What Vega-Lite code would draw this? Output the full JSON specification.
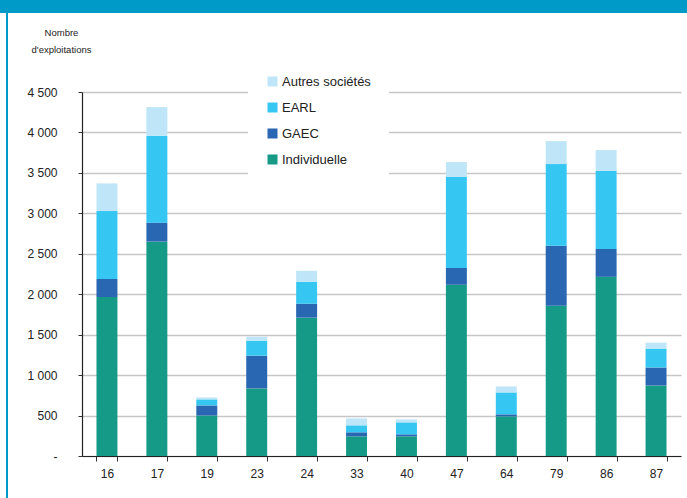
{
  "$schema": "https://vega.github.io/schema/vega-lite/v6.json",
  "autosize": {"type": "none"},
  "width": 599,
  "height": 364,
  "padding": {"left": 82, "top": 92, "right": 6, "bottom": 42},
  "background": "white",
  "config": {
    "font": "Liberation Sans",
    "view": {"stroke": null}
  },
  "data": {
    "values": [
      {"dep": "16", "type": "Individuelle", "n": 1965},
      {"dep": "16", "type": "GAEC", "n": 223},
      {"dep": "16", "type": "EARL", "n": 840},
      {"dep": "16", "type": "Autres sociétés", "n": 342},
      {"dep": "17", "type": "Individuelle", "n": 2650},
      {"dep": "17", "type": "GAEC", "n": 235},
      {"dep": "17", "type": "EARL", "n": 1072},
      {"dep": "17", "type": "Autres sociétés", "n": 356},
      {"dep": "19", "type": "Individuelle", "n": 500},
      {"dep": "19", "type": "GAEC", "n": 125},
      {"dep": "19", "type": "EARL", "n": 75},
      {"dep": "19", "type": "Autres sociétés", "n": 24},
      {"dep": "23", "type": "Individuelle", "n": 835},
      {"dep": "23", "type": "GAEC", "n": 405},
      {"dep": "23", "type": "EARL", "n": 185},
      {"dep": "23", "type": "Autres sociétés", "n": 50},
      {"dep": "24", "type": "Individuelle", "n": 1710},
      {"dep": "24", "type": "GAEC", "n": 172},
      {"dep": "24", "type": "EARL", "n": 272},
      {"dep": "24", "type": "Autres sociétés", "n": 136},
      {"dep": "33", "type": "Individuelle", "n": 243},
      {"dep": "33", "type": "GAEC", "n": 50},
      {"dep": "33", "type": "EARL", "n": 86},
      {"dep": "33", "type": "Autres sociétés", "n": 86},
      {"dep": "40", "type": "Individuelle", "n": 243},
      {"dep": "40", "type": "GAEC", "n": 25},
      {"dep": "40", "type": "EARL", "n": 148},
      {"dep": "40", "type": "Autres sociétés", "n": 37},
      {"dep": "47", "type": "Individuelle", "n": 2117},
      {"dep": "47", "type": "GAEC", "n": 208},
      {"dep": "47", "type": "EARL", "n": 1124},
      {"dep": "47", "type": "Autres sociétés", "n": 185},
      {"dep": "64", "type": "Individuelle", "n": 490},
      {"dep": "64", "type": "GAEC", "n": 25},
      {"dep": "64", "type": "EARL", "n": 271},
      {"dep": "64", "type": "Autres sociétés", "n": 74},
      {"dep": "79", "type": "Individuelle", "n": 1858},
      {"dep": "79", "type": "GAEC", "n": 740},
      {"dep": "79", "type": "EARL", "n": 1011},
      {"dep": "79", "type": "Autres sociétés", "n": 284},
      {"dep": "86", "type": "Individuelle", "n": 2215},
      {"dep": "86", "type": "GAEC", "n": 345},
      {"dep": "86", "type": "EARL", "n": 963},
      {"dep": "86", "type": "Autres sociétés", "n": 259},
      {"dep": "87", "type": "Individuelle", "n": 872},
      {"dep": "87", "type": "GAEC", "n": 222},
      {"dep": "87", "type": "EARL", "n": 234},
      {"dep": "87", "type": "Autres sociétés", "n": 74}
    ]
  },
  "encoding": {
    "x": {
      "field": "dep",
      "type": "nominal",
      "sort": null,
      "scale": {"paddingInner": 0.58, "paddingOuter": 0.29},
      "axis": {
        "title": null,
        "labelAngle": 0,
        "labelFontSize": 12,
        "labelColor": "#222222",
        "labelPadding": 7,
        "tickBand": "extent",
        "tickSize": 5,
        "tickColor": "#333333",
        "domainColor": "#222222",
        "domainWidth": 1.2,
        "grid": false
      }
    }
  },
  "layer": [
    {
      "mark": {"type": "bar", "strokeWidth": 0},
      "encoding": {
        "y": {
          "field": "n",
          "type": "quantitative",
          "stack": "zero",
          "scale": {"domain": [0, 4500], "nice": false},
          "axis": {
            "values": [0, 500, 1000, 1500, 2000, 2500, 3000, 3500, 4000, 4500],
            "labelExpr": "datum.value === 0 ? '-\u00a0\u00a0\u00a0\u00a0\u00a0' : replace(format(datum.value, ','), ',', ' ')",
            "labelFontSize": 12,
            "labelColor": "#222222",
            "labelPadding": 21,
            "tickSize": 4,
            "tickColor": "#333333",
            "domainColor": "#222222",
            "domainWidth": 1.2,
            "grid": true,
            "gridColor": "#c6c6c6",
            "gridWidth": 1.3,
            "title": ["Nombre", "d'exploitations"],
            "titleAngle": 0,
            "titleAlign": "center",
            "titleBaseline": "top",
            "titleX": -21,
            "titleY": -65,
            "titleFont": "Liberation Sans",
            "titleFontSize": 9.5,
            "titleFontWeight": "normal",
            "titleColor": "#222222",
            "titleLineHeight": 17
          }
        },
        "color": {
          "field": "type",
          "type": "nominal",
          "scale": {
            "domain": ["Autres sociétés", "EARL", "GAEC", "Individuelle"],
            "range": ["#BEE6F8", "#36C6F2", "#2A67B2", "#169A88"]
          },
          "legend": {
            "title": null,
            "orient": "none",
            "legendX": 166,
            "legendY": -35,
            "fillColor": "white",
            "padding": 18,
            "symbolType": "square",
            "symbolSize": 100,
            "symbolStrokeWidth": 0,
            "labelFontSize": 13,
            "labelColor": "#222222",
            "labelOffset": 3,
            "rowPadding": 12
          }
        },
        "stroke": {
          "field": "n",
          "type": "quantitative",
          "scale": {"range": ["#009AC9", "#009AC9"]},
          "legend": {
            "title": null,
            "labels": false,
            "labelExpr": "''",
            "labelOpacity": 0,
            "orient": "none",
            "direction": "horizontal",
            "legendX": -82,
            "legendY": -92,
            "padding": 0,
            "gradientLength": 687,
            "gradientThickness": 13,
            "gradientStrokeWidth": 0
          }
        },
        "order": {"field": "type", "sort": "descending"}
      }
    },
    {
      "mark": {"type": "point", "opacity": 0},
      "encoding": {
        "y": {"field": "n", "type": "quantitative", "stack": null},
        "color": {
          "field": "n",
          "type": "quantitative",
          "scale": {"range": ["#009AC9", "#009AC9"]},
          "legend": {
            "title": null,
            "labels": false,
            "labelExpr": "''",
            "labelOpacity": 0,
            "orient": "none",
            "direction": "vertical",
            "legendX": -76,
            "legendY": -79,
            "padding": 0,
            "gradientLength": 485,
            "gradientThickness": 2,
            "gradientStrokeWidth": 0
          }
        }
      }
    }
  ],
  "resolve": {"scale": {"color": "independent"}, "legend": {"color": "independent"}}
}
